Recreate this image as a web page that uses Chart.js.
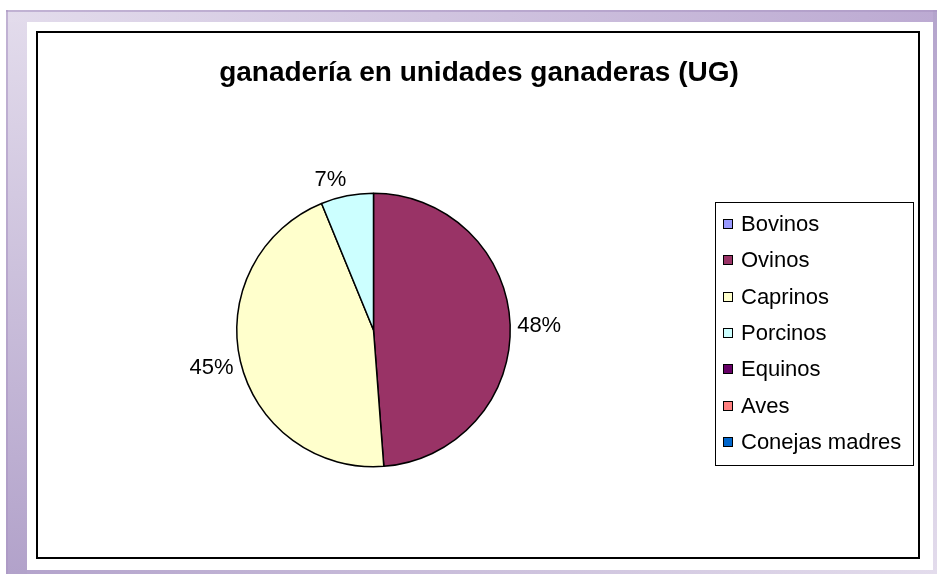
<!DOCTYPE html>
<html>
<head>
<meta charset="utf-8">
<script src="https://cdn.jsdelivr.net/npm/chart.js@4"></script>
<style>
html, body { margin: 0; padding: 0; background: #fff; }
#wrap { position: relative; width: 937px; height: 574px; }
</style>
</head>
<body>
<div id="wrap"><canvas id="grafico"></canvas></div>
<script>
// Datos del grafico
const categorias = ['Bovinos', 'Ovinos', 'Caprinos', 'Porcinos', 'Equinos', 'Aves', 'Conejas madres'];
const porcentajes = [0, 48.8, 45.0, 6.2, 0, 0, 0];
const etiquetas = ['', '48%', '45%', '7%', '', '', ''];
const colores = ['#9999ff', '#993366', '#ffffcc', '#ccffff', '#660066', '#ff8080', '#0066cc'];
const titulo = 'ganadería en unidades ganaderas (UG)';

const fuente = '"Liberation Sans", Arial, sans-serif';

// Marco morado y caja blanca del grafico
const marcoPlugin = {
    id: 'marco',
    beforeDraw(chart) {
        const ctx = chart.ctx;
        ctx.save();
        ctx.fillStyle = '#fff';
        ctx.fillRect(0, 0, 937, 574);

        let g = ctx.createLinearGradient(0, 10, 0, 574);
        g.addColorStop(0, '#e3dcec');
        g.addColorStop(1, '#b2a2ca');
        ctx.fillStyle = g;
        ctx.fillRect(6, 10, 21, 564);

        g = ctx.createLinearGradient(6, 0, 937, 0);
        g.addColorStop(0, '#e3dcec');
        g.addColorStop(1, '#bcaad2');
        ctx.fillStyle = g;
        ctx.fillRect(6, 10, 931, 12);

        g = ctx.createLinearGradient(0, 10, 0, 574);
        g.addColorStop(0, '#b4a4cc');
        g.addColorStop(1, '#e3dcec');
        ctx.fillStyle = g;
        ctx.fillRect(933, 10, 4, 564);

        g = ctx.createLinearGradient(27, 0, 937, 0);
        g.addColorStop(0, '#b4a4cc');
        g.addColorStop(1, '#e3dcec');
        ctx.fillStyle = g;
        ctx.fillRect(27, 570, 910, 4);

        ctx.fillStyle = 'rgba(170,150,195,0.6)';
        ctx.fillRect(6, 10, 931, 2);
        ctx.fillRect(6, 10, 2, 564);

        ctx.strokeStyle = '#000';
        ctx.lineWidth = 2;
        ctx.strokeRect(37, 32, 882, 526);
        ctx.restore();
    },
    afterDraw(chart) {
        const ctx = chart.ctx;
        ctx.save();
        // titulo
        ctx.fillStyle = '#000';
        ctx.font = 'bold 28px ' + fuente;
        ctx.textAlign = 'center';
        ctx.textBaseline = 'middle';
        ctx.fillText(titulo, 479, 73);

        // leyenda
        ctx.strokeStyle = '#000';
        ctx.lineWidth = 1;
        ctx.strokeRect(715.5, 202.5, 198, 263);
        ctx.font = '22px ' + fuente;
        ctx.textAlign = 'left';
        categorias.forEach((c, i) => {
            const y = 224 + i * 36.3;
            ctx.fillStyle = colores[i];
            ctx.fillRect(723, Math.round(y) - 5, 10, 10);
            ctx.strokeRect(723.5, Math.round(y) - 4.5, 9, 9);
            ctx.fillStyle = '#000';
            ctx.fillText(c, 741, y + 1);
        });
        ctx.restore();
    }
};

// Etiquetas de porcentaje fuera del pastel
const etiquetasPlugin = {
    id: 'etiquetas',
    afterDatasetsDraw(chart) {
        const ctx = chart.ctx;
        const meta = chart.getDatasetMeta(0);
        ctx.save();
        ctx.font = '22px ' + fuente;
        ctx.fillStyle = '#000';
        ctx.textAlign = 'center';
        ctx.textBaseline = 'middle';
        meta.data.forEach((arc, i) => {
            if (!porcentajes[i]) return;
            const p = arc.getProps(['startAngle', 'endAngle', 'outerRadius', 'x', 'y'], true);
            const mid = (p.startAngle + p.endAngle) / 2;
            const txt = etiquetas[i];
            const w = ctx.measureText(txt).width;
            const cx = Math.cos(mid), cy = Math.sin(mid);
            const ax = p.x + cx * (p.outerRadius + 7);
            const ay = p.y + cy * (p.outerRadius + 7);
            const sx = Math.max(-1, Math.min(1, cx * 5));
            ctx.fillText(txt, ax + sx * w / 2, ay + cy * 11 + 2);
        });
        ctx.restore();
    }
};

new Chart(document.getElementById('grafico'), {
    type: 'pie',
    data: {
        labels: categorias,
        datasets: [{
            data: porcentajes,
            backgroundColor: colores,
            borderColor: '#000',
            borderWidth: 1.5,
            hoverOffset: 0
        }]
    },
    options: {
        responsive: true,
        maintainAspectRatio: false,
        animation: false,
        events: [],
        layout: {
            padding: { left: 236, right: 426, top: 192, bottom: 106 }
        },
        plugins: {
            legend: { display: false },
            title: { display: false },
            tooltip: { enabled: false }
        }
    },
    plugins: [marcoPlugin, etiquetasPlugin]
});
</script>
</body>
</html>
